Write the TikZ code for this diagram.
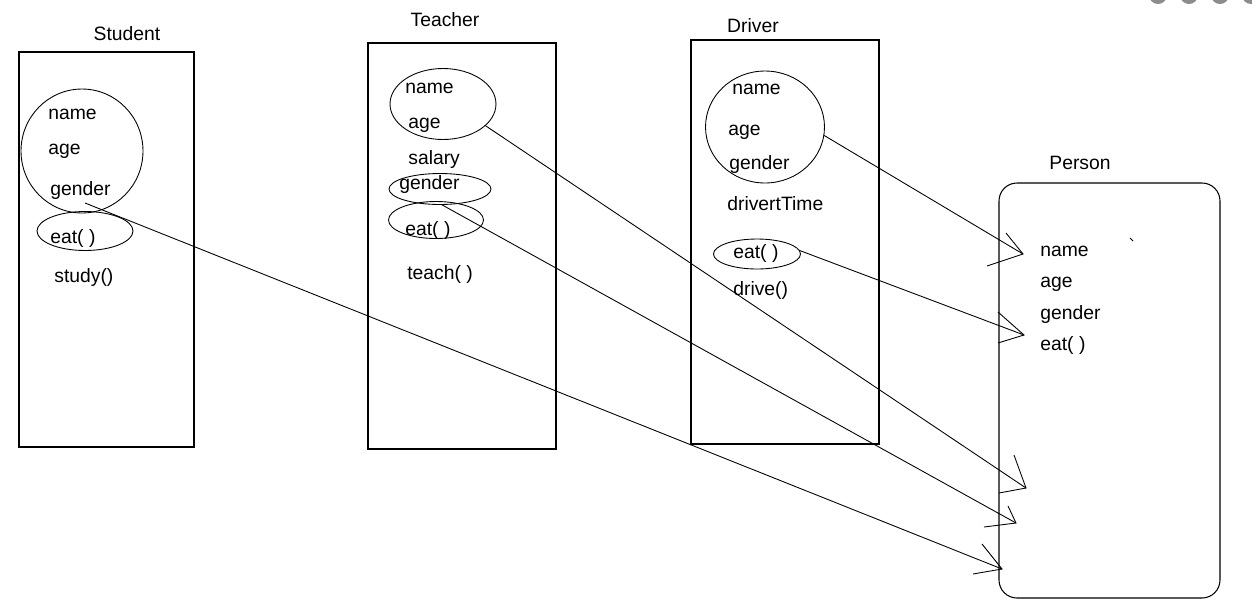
\documentclass[tikz,border=0pt]{standalone}
\usepackage{fontspec}
\setmainfont{Liberation Sans}
\usetikzlibrary{shapes.geometric}
\tikzstyle{oval}=[draw, ellipse, inner sep=0pt, outer sep=0pt, line width=0.5pt]
\tikzstyle{field}=[anchor=base west, inner sep=0pt, font=\fontsize{11}{13}\selectfont]
\tikzstyle{classname}=[anchor=base, inner sep=0pt, font=\fontsize{11}{13}\selectfont]
\tikzstyle{classbox}=[line width=0.6pt]
\newcommand{\drawhandarrow}[4]{
% shaft, then the two barbs drawn by hand from the tip
\draw[line width=0.5pt] (#1) -- (#2);
\draw[line width=0.5pt] (#2) ++(#3) -- (#2) -- ++(#4);
}

\begin{document}
\begin{tikzpicture}[x=0.02cm,y=-0.02cm]
	\useasboundingbox (0,0) rectangle (1252,613);
	\clip (0,0) rectangle (1252,613);
	\foreach \cx in {1158,1189,1220,1251} {
	  \fill[black!45] (\cx,-5) circle (9);
	}
	% Student
	\draw[classbox] (19,52) rectangle (194,447);
	\node[classname] (student) at (127,40) {Student};
	\node[oval, minimum width=2.44cm, minimum height=2.48cm] (s-oval) at (82,151) {};
	\node[oval, minimum width=1.92cm, minimum height=0.78cm] (s-eatoval) at (85,231) {};
	\foreach \nm/\x/\y/\txt in {s-name/48/119/name, s-age/48/154/age, s-gender/50/195/gender, s-eat/50/243/{eat( )}, s-study/54/282/study()} {
	  \node[field] (\nm) at (\x,\y) {\txt};
	}
	% Teacher
	\draw[classbox] (368,43) rectangle (556,449);
	\node[classname] (teacher) at (445,26) {Teacher};
	\node[oval, minimum width=2.12cm, minimum height=1.42cm] (t-oval) at (443,104) {};
	\node[oval, minimum width=2.04cm, minimum height=0.62cm] (t-genderoval) at (440,189) {};
	\node[oval, minimum width=1.90cm, minimum height=0.74cm] (t-eatoval) at (436,220) {};
	\foreach \nm/\x/\y/\txt in {t-name/405/93/name, t-age/408/128/age, t-salary/408/164/salary, t-gender/399/189/gender, t-eat/405/235/{eat( )}, t-teach/407/279/{teach( )}} {
	  \node[field] (\nm) at (\x,\y) {\txt};
	}
	% Driver
	\draw[classbox] (691,40) rectangle (879,444);
	\node[classname] (driver) at (753,32) {Driver};
	\node[oval, minimum width=2.38cm, minimum height=2.24cm] (d-oval) at (765,127) {};
	\node[oval, minimum width=1.74cm, minimum height=0.60cm] (d-eatoval) at (757,254) {};
	\foreach \nm/\x/\y/\txt in {d-name/732/94/name, d-age/728/135/age, d-gender/729/169/gender, d-time/727/210/drivertTime, d-eat/733/258/{eat( )}, d-drive/733/295/drive()} {
	  \node[field] (\nm) at (\x,\y) {\txt};
	}
	% Person
	\draw[classbox, rounded corners=0.36cm] (999,183) rectangle (1220,598);
	\node[classname] (person) at (1080,169) {Person};
	\foreach \nm/\y/\txt in {p-name/256/name, p-age/287/age, p-gender/319/gender, p-eat/350/{eat( )}} {
	  \node[field] (\nm) at (1040,\y) {\txt};
	}
	\draw[line width=0.6pt] (1130,238) -- (1133,241);
	% arrow tips on Person
	\coordinate (tip1) at (1023,254);
	\coordinate (tip2) at (1024,335);
	\coordinate (tip3) at (1026,488);
	\coordinate (tip4) at (1016,523);
	\coordinate (tip5) at (1002,569);
	\coordinate (s-from) at (85,203);
	\drawhandarrow{d-oval.-8}{tip1}{-17,-21}{-36,12}
	\drawhandarrow{d-eatoval.5}{tip2}{-26,-23}{-26,8}
	\drawhandarrow{t-oval.-27}{tip3}{-12,-33}{-27,5}
	\drawhandarrow{t-genderoval.-85}{tip4}{-8,-17}{-32,4}
	\drawhandarrow{s-from}{tip5}{-20,-25}{-29,5}
\end{tikzpicture}
\end{document}
